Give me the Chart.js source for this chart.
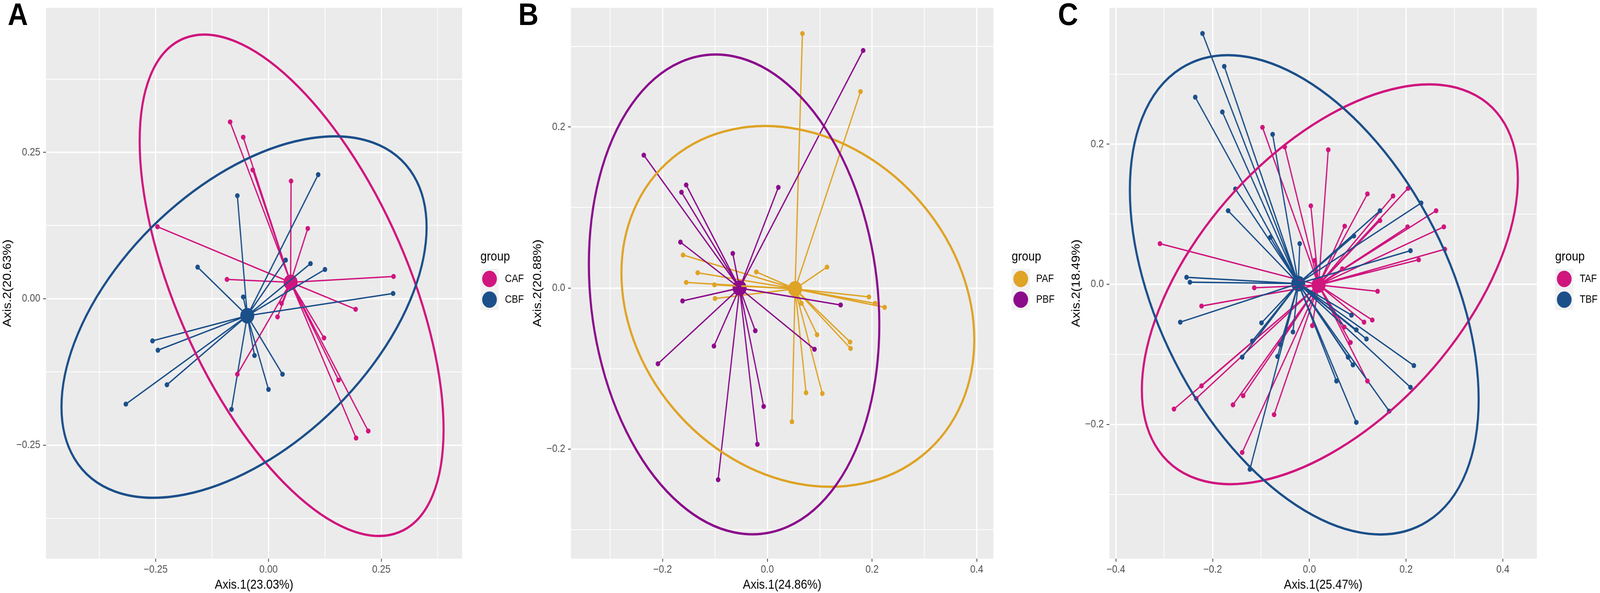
<!DOCTYPE html>
<html>
<head>
<meta charset="utf-8">
<script src="https://cdn.jsdelivr.net/npm/chart.js@4.4.0/dist/chart.umd.min.js"></script>
<style>
  html, body { margin: 0; padding: 0; background: #fff; overflow: hidden; }
  #figure { width: 4563px; height: 1518px; position: absolute; left: 0; top: 0; transform-origin: 0 0; }
  canvas { position: absolute; top: 0; }
  .tag { position: absolute; top: -3px; font: bold 80px "Liberation Sans", Arial, sans-serif; line-height: 1; color: #000; }
</style>
</head>
<body>
<div id="figure">
<canvas id="panelA" width="1508" height="1518" style="left:0px"></canvas>
<canvas id="panelB" width="1528" height="1518" style="left:1508px"></canvas>
<canvas id="panelC" width="1527" height="1518" style="left:3036px"></canvas>
<div class="tag" style="left:22px">A</div>
<div class="tag" style="left:1478px">B</div>
<div class="tag" style="left:3017px">C</div>
</div>
<script>
// ---- panel A : CAF vs CBF ----
const cafX = [-0.085, -0.056, -0.035, 0.050, 0.087, -0.246, -0.092, 0.277, 0.193, 0.029, 0.020, 0.123, 0.155, -0.069, 0.221, 0.194];
const cafY = [0.302, 0.276, 0.220, 0.201, 0.120, 0.123, 0.033, 0.038, -0.018, -0.008, -0.031, -0.067, -0.139, -0.129, -0.226, -0.238];
const cafCentroid = [0.049, 0.028];
const cbfX = [0.110, -0.069, 0.038, 0.093, 0.125, -0.157, -0.056, 0.276, -0.257, -0.245, -0.225, -0.316, -0.031, 0.031, 0.000, -0.082];
const cbfY = [0.212, 0.176, 0.066, 0.060, 0.050, 0.054, 0.003, 0.009, -0.072, -0.088, -0.147, -0.180, -0.097, -0.129, -0.155, -0.189];
const cbfCentroid = [-0.047, -0.029];
// ellipse: centre x, centre y, then two conjugate semi-axes (ux, uy, vx, vy)
const cafEllipse = [0.0512, 0.023, 0.3366, -0.2462, 0, 0.3504];
const cbfEllipse = [-0.0542, -0.0313, 0.4044, 0.1535, 0, 0.2679];
const xTicksA = [-0.375, -0.25, -0.125, 0, 0.125, 0.25, 0.375];
const xLabelsA = ['', '\u22120.25', '', '0.00', '', '0.25', ''];
const yTicksA = [-0.375, -0.25, -0.125, 0, 0.125, 0.25, 0.375];
const yLabelsA = ['', '\u22120.25', '', '0.00', '', '0.25', ''];

// ---- panel B : PAF vs PBF ----
const pafX = [0.067, 0.178, 0.114, -0.021, -0.161, -0.133, -0.155, -0.101, -0.100, 0.194, 0.206, 0.224, 0.065, 0.095, 0.158, 0.159, 0.074, 0.105, 0.047];
const pafY = [0.316, 0.244, 0.026, 0.020, 0.041, 0.019, 0.007, 0.004, -0.013, -0.011, -0.019, -0.024, -0.019, -0.058, -0.067, -0.075, -0.130, -0.131, -0.166];
const pafCentroid = [0.053, -0.001];
const pbfX = [0.183, -0.236, -0.155, -0.164, 0.021, -0.166, -0.066, -0.162, 0.140, -0.023, -0.102, 0.090, -0.209, -0.007, -0.019, -0.094];
const pbfY = [0.295, 0.165, 0.128, 0.119, 0.125, 0.057, 0.043, -0.016, -0.021, -0.053, -0.072, -0.076, -0.094, -0.147, -0.194, -0.238];
const pbfCentroid = [-0.053, 0.000];
const pafEllipse = [0.0583, -0.0228, 0.337, -0.0414, 0, 0.2201];
const pbfEllipse = [-0.0635, -0.0079, 0.2774, -0.0376, 0, 0.2955];
const xTicksB = [-0.3, -0.2, -0.1, 0, 0.1, 0.2, 0.3, 0.4];
const xLabelsB = ['', '\u22120.2', '', '0.0', '', '0.2', '', '0.4'];
const yTicksB = [-0.3, -0.2, -0.1, 0, 0.1, 0.2, 0.3];
const yLabelsB = ['', '\u22120.2', '', '0.0', '', '0.2', ''];

// ---- panel C : TAF vs TBF ----
const tafX = [-0.097, -0.051, 0.039, 0.120, 0.173, 0.204, 0.003, 0.262, 0.146, 0.073, 0.203, 0.278, -0.309, 0.280, 0.011, 0.068, 0.226, -0.114, 0.141, -0.223, 0.113, 0.130, 0.006, 0.072, 0.085, -0.062, 0.120, -0.223, -0.234, -0.137, -0.158, -0.280, -0.073, -0.139];
const tafY = [0.224, 0.196, 0.192, 0.129, 0.126, 0.137, 0.112, 0.105, 0.091, 0.083, 0.082, 0.082, 0.058, 0.050, 0.034, 0.022, 0.035, -0.005, -0.010, -0.031, -0.054, -0.051, -0.059, -0.061, -0.083, -0.085, -0.138, -0.145, -0.163, -0.159, -0.172, -0.178, -0.186, -0.240];
const tafCentroid = [0.019, -0.001];
const tbfX = [-0.221, -0.176, -0.236, -0.180, -0.076, -0.153, -0.168, -0.081, -0.020, 0.092, 0.146, 0.231, 0.209, -0.254, -0.247, -0.267, -0.099, -0.034, -0.118, -0.060, -0.139, -0.066, 0.087, 0.097, 0.118, 0.080, 0.090, 0.216, 0.209, 0.056, 0.165, 0.097, -0.123];
const tbfY = [0.358, 0.311, 0.267, 0.246, 0.214, 0.136, 0.105, 0.067, 0.058, 0.069, 0.105, 0.116, 0.048, 0.010, 0.003, -0.054, -0.055, -0.068, -0.081, -0.086, -0.104, -0.103, -0.044, -0.065, -0.078, -0.104, -0.115, -0.116, -0.147, -0.138, -0.181, -0.197, -0.264];
const tbfCentroid = [-0.023, 0.001];
const tafEllipse = [0.0423, 0.0, 0.3887, 0.1506, 0, 0.2422];
const tbfEllipse = [-0.0106, -0.015, 0.3606, -0.1495, 0, 0.3076];
const xTicksC = [-0.4, -0.3, -0.2, -0.1, 0, 0.1, 0.2, 0.3, 0.4];
const xLabelsC = ['\u22120.4', '', '\u22120.2', '', '0.0', '', '0.2', '', '0.4'];
const yTicksC = [-0.3, -0.2, -0.1, 0, 0.1, 0.2, 0.3];
const yLabelsC = ['', '\u22120.2', '', '0.0', '', '0.2', ''];

const PINK = '#D0157E';
const BLUE = '#1B4F8A';
const GOLD = '#DFA325';
const PURPLE = '#8B0A8B';
const FONT = '"Liberation Sans", Arial, sans-serif';

// stretch the 4563x1518 figure over the whole viewport
(function fitFigure() {
    const sx = window.innerWidth / 4563, sy = window.innerHeight / 1518;
    document.getElementById('figure').style.transform = 'scale(' + sx + ',' + sy + ')';
})();

// grey panel background like ggplot theme_grey
const panelBg = {
    id: 'panelBg',
    beforeDraw(chart) {
        const { ctx, chartArea: a } = chart;
        ctx.save();
        ctx.fillStyle = '#EBEBEB';
        ctx.fillRect(a.left, a.top, a.right - a.left, a.bottom - a.top);
        ctx.restore();
    }
};

// confidence ellipses, mapped through the chart scales
const ellipses = {
    id: 'ellipses',
    afterDatasetsDraw(chart, args, opts) {
        const { ctx, scales: { x, y } } = chart;
        (opts.items || []).forEach(item => {
            const [cx, cy, ux, uy, vx, vy] = item.e;
            const px = x.getPixelForValue(cx), py = y.getPixelForValue(cy);
            const Ux = x.getPixelForValue(cx + ux) - px, Uy = y.getPixelForValue(cy + uy) - py;
            const Vx = x.getPixelForValue(cx + vx) - px, Vy = y.getPixelForValue(cy + vy) - py;
            ctx.save();
            ctx.beginPath();
            ctx.transform(Ux, Uy, Vx, Vy, px, py);
            ctx.arc(0, 0, 1, 0, Math.PI * 2);
            ctx.restore();
            ctx.save();
            ctx.strokeStyle = item.color;
            ctx.lineWidth = 6;
            ctx.stroke();
            ctx.restore();
        });
    }
};

// ggplot-style legend to the right of the panel
const groupLegend = {
    id: 'groupLegend',
    afterDraw(chart, args, opts) {
        const { ctx, chartArea: a } = chart;
        const left = a.right + 52;
        ctx.save();
        ctx.fillStyle = '#000';
        ctx.font = '33px ' + FONT;
        ctx.textBaseline = 'alphabetic';
        ctx.fillText('group', left, 667);
        opts.labels.forEach((lab, i) => {
            const cy = 714 + i * 53;
            ctx.fillStyle = '#F2F2F2';
            ctx.fillRect(left, cy - 26, 52, 53);
            ctx.fillStyle = opts.colors[i];
            ctx.beginPath();
            ctx.arc(left + 26, cy, 21, 0, Math.PI * 2);
            ctx.fill();
            ctx.fillStyle = '#000';
            ctx.font = '27px ' + FONT;
            ctx.textBaseline = 'middle';
            ctx.fillText(lab, a.right + 122, cy + 1);
        });
        ctx.restore();
    }
};

function toPoints(xs, ys) {
    return xs.map((v, i) => ({ x: v, y: ys[i] }));
}

function spider(xs, ys, c) {
    const out = [];
    xs.forEach((v, i) => {
        out.push({ x: c[0], y: c[1] });
        out.push({ x: v, y: ys[i] });
        out.push({ x: null, y: null });
    });
    return out;
}

function groupSets(xs, ys, c, color) {
    return {
        points: { data: toPoints(xs, ys), backgroundColor: color, borderColor: color, pointRadius: 6.5, borderWidth: 0, showLine: false },
        lines: { data: spider(xs, ys, c), borderColor: color, borderWidth: 3.6, pointRadius: 0, showLine: true, spanGaps: false },
        centroid: { data: [{ x: c[0], y: c[1] }], backgroundColor: color, borderColor: color, pointRadius: 20, borderWidth: 0, showLine: false }
    };
}

function axisOptions(cfg, vals, labels, horizontal) {
    return {
        type: 'linear',
        min: cfg.min,
        max: cfg.max,
        afterBuildTicks: s => { s.ticks = vals.map(v => ({ value: v })); },
        afterFit: s => {
            if (horizontal) { s.height = 88; s.paddingLeft = 0; s.paddingRight = 0; }
            else { s.width = cfg.width; s.paddingTop = 0; s.paddingBottom = 0; }
        },
        border: { display: false },
        grid: {
            color: '#FFFFFF',
            lineWidth: c => (labels[c.index] ? 3.5 : 2),
            tickColor: c => (labels[c.index] ? '#333333' : 'rgba(0,0,0,0)'),
            tickLength: 8,
            tickWidth: 2
        },
        ticks: {
            autoSkip: false,
            maxRotation: 0,
            padding: horizontal ? 4 : 8,
            color: '#4D4D4D',
            font: { family: FONT, size: 27 },
            callback: (v, i) => labels[i]
        },
        title: {
            display: true,
            text: cfg.title,
            color: '#000',
            font: { family: FONT, size: 33 },
            padding: horizontal ? { top: 0, bottom: 0 } : { top: cfg.titlePad, bottom: 0 }
        }
    };
}

function makePanel(p) {
    const g1 = groupSets(p.g1.x, p.g1.y, p.g1.c, p.g1.color);
    const g2 = groupSets(p.g2.x, p.g2.y, p.g2.c, p.g2.color);
    const canvas = document.getElementById(p.id);
    return new Chart(canvas, {
        type: 'scatter',
        data: {
            // first dataset is painted last (on top)
            datasets: [g2.points, g1.points, g2.lines, g1.lines, g2.centroid, g1.centroid]
        },
        options: {
            responsive: false,
            animation: false,
            devicePixelRatio: 1,
            layout: { padding: { left: 0, top: 3, bottom: 0, right: canvas.width - p.plotRight } },
            plugins: {
                legend: { display: false },
                tooltip: { enabled: false },
                ellipses: { items: [{ e: p.g1.ellipse, color: p.g1.color }, { e: p.g2.ellipse, color: p.g2.color }] },
                groupLegend: { labels: [p.g1.name, p.g2.name], colors: [p.g1.color, p.g2.color] }
            },
            scales: {
                x: axisOptions(p.x, p.x.ticks, p.x.labels, true),
                y: axisOptions(p.y, p.y.ticks, p.y.labels, false)
            }
        },
        plugins: [panelBg, ellipses, groupLegend]
    });
}

makePanel({
    id: 'panelA', plotRight: 1318,
    x: { min: -0.493, max: 0.429, ticks: xTicksA, labels: xLabelsA, title: 'Axis.1(23.03%)' },
    y: { min: -0.444, max: 0.497, ticks: yTicksA, labels: yLabelsA, title: 'Axis.2(20.63%)', width: 131, titlePad: 2 },
    g1: { name: 'CAF', x: cafX, y: cafY, c: cafCentroid, ellipse: cafEllipse, color: PINK },
    g2: { name: 'CBF', x: cbfX, y: cbfY, c: cbfCentroid, ellipse: cbfEllipse, color: BLUE }
});

makePanel({
    id: 'panelB', plotRight: 1325,
    x: { min: -0.3753, max: 0.4318, ticks: xTicksB, labels: xLabelsB, title: 'Axis.1(24.86%)' },
    y: { min: -0.336, max: 0.348, ticks: yTicksB, labels: yLabelsB, title: 'Axis.2(20.88%)', width: 120, titlePad: 6 },
    g1: { name: 'PAF', x: pafX, y: pafY, c: pafCentroid, ellipse: pafEllipse, color: GOLD },
    g2: { name: 'PBF', x: pbfX, y: pbfY, c: pbfCentroid, ellipse: pbfEllipse, color: PURPLE }
});

makePanel({
    id: 'panelC', plotRight: 1347,
    x: { min: -0.4134, max: 0.4704, ticks: xTicksC, labels: xLabelsC, title: 'Axis.1(25.47%)' },
    y: { min: -0.3915, max: 0.3946, ticks: yTicksC, labels: yLabelsC, title: 'Axis.2(18.49%)', width: 128, titlePad: 14 },
    g1: { name: 'TAF', x: tafX, y: tafY, c: tafCentroid, ellipse: tafEllipse, color: PINK },
    g2: { name: 'TBF', x: tbfX, y: tbfY, c: tbfCentroid, ellipse: tbfEllipse, color: BLUE }
});
</script>
</body>
</html>
